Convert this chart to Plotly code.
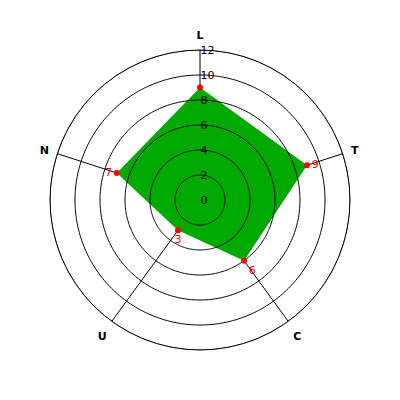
import plotly.graph_objects as go

categories = ["L", "T", "C", "U", "N"]
values = [9, 9, 6, 3, 7]
point_labels = ["", "9", "6", "3", "7"]
radial_ticks = [0, 2, 4, 6, 8, 10, 12]

step = 360 / len(categories)
angles = [i * step for i in range(len(categories))]

fig = go.Figure()

# filled polygon
fig.add_trace(go.Scatterpolar(
    r=values + [values[0]], theta=angles + [angles[0]],
    mode="lines", fill="toself", fillcolor="#00AA00",
    line=dict(color="#00AA00", width=0), hoverinfo="skip", showlegend=False,
))

# concentric circles drawn above the fill
n = 360
for t in radial_ticks[1:]:
    fig.add_trace(go.Scatterpolar(
        r=[t] * (n + 1), theta=[i * 360 / n for i in range(n + 1)],
        mode="lines", line=dict(color="black", width=1), hoverinfo="skip",
        showlegend=False,
    ))

# markers + labels
fig.add_trace(go.Scatterpolar(
    r=values, theta=angles, mode="markers+text",
    marker=dict(color="red", size=6),
    text=point_labels,
    textposition=["bottom center", "middle right", "bottom right", "bottom center", "middle left"],
    textfont=dict(color="red", size=11, family="DejaVu Sans"),
    showlegend=False,
))

fig.update_layout(
    width=400, height=400,
    margin=dict(l=42, r=58, t=42, b=58),
    paper_bgcolor="white",
    showlegend=False,
    polar=dict(
        bgcolor="white",
        domain=dict(x=[0, 1], y=[0, 1]),
        angularaxis=dict(
            type="linear", thetaunit="degrees",
            tickvals=angles, ticktext=categories,
            direction="clockwise", rotation=90,
            showline=True, linecolor="black", linewidth=1,
            showgrid=True, gridcolor="black", gridwidth=1,
            ticks="outside", ticklen=6, tickcolor="rgba(0,0,0,0)",
            tickfont=dict(family="DejaVu Sans", size=11, color="black", weight="bold"),
        ),
        radialaxis=dict(
            range=[0, 12], tickvals=radial_ticks, angle=90, tickangle=90,
            showgrid=False, showline=False, ticks="",
            tickfont=dict(family="DejaVu Sans", size=11, color="black"),
            layer="above traces", side="clockwise",
        ),
    ),
)

fig.write_html("out.html")
